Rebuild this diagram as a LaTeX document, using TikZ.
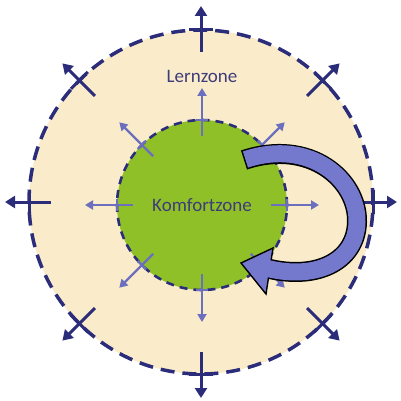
\documentclass[tikz,border=0pt]{standalone}
\usepackage{fontspec}
\setmainfont{Carlito}
\usetikzlibrary{arrows.meta}

\definecolor{lernfill}{RGB}{250,236,202}
\definecolor{komfortfill}{RGB}{143,192,40}
\definecolor{zonenavy}{RGB}{43,45,122}
\definecolor{innerblue}{RGB}{108,110,190}
\definecolor{loopblue}{RGB}{117,121,206}
\definecolor{zonetext}{RGB}{62,60,122}

\tikzset{
    outarrow/.style={zonenavy, line width=3pt, -{Triangle[length=10pt,width=12pt]}},
    outbar/.style={zonenavy, line width=3pt},
    inarrow/.style={innerblue, line width=2.4pt, -{Triangle[length=8pt,width=9pt]}},
    inbar/.style={innerblue, line width=2.4pt},
    zonelabel/.style={text=zonetext, font=\fontsize{19}{22}\selectfont}
}

\begin{document}
\begin{tikzpicture}[x=1pt,y=-1pt]
            \useasboundingbox (0,0) rectangle (400,401);
            \coordinate (c) at (201,202);
            \coordinate (k) at (202,205);

            \node[circle, inner sep=0pt, minimum size=344pt, fill=lernfill, draw=zonenavy,
                  line width=3.5pt, dash pattern=on 14pt off 8pt] (lern) at (c) {};
            \node[circle, inner sep=0pt, minimum size=170pt, fill=komfortfill, draw=zonenavy,
                  line width=2.6pt, dash pattern=on 8pt off 6pt, zonelabel] (komfort) at (k) {Komfortzone};
            \node[zonelabel] (lernlabel) at (202,76) {Lernzone};

            % Pfeile der Lernzone
            \foreach \a in {0,45,...,315}{
                \draw[outarrow] ([shift={(\a:150)}]c) -- ([shift={(\a:196)}]c);
                \draw[outbar] ([shift={(\a:172)}]c) ++(\a+90:12) -- ++(\a-90:24);
            }

            % Pfeile der Komfortzone
            \foreach \a in {0,45,...,315}{
                \draw[inarrow] ([shift={(\a:69)}]k) -- ([shift={(\a:117)}]k);
                \draw[inbar] ([shift={(\a:85)}]k) ++(\a+90:6) -- ++(\a-90:12);
            }

            % Rueckweg
            \coordinate (tail) at (244,160);
            \coordinate (bend) at (357,222);
            \coordinate (hb) at (262,267);
            \coordinate (tip) at (241,263);
            \coordinate (bu) at (273,248);
            \coordinate (bl) at (266,294);

            \draw[black, line width=20pt] (tail) .. controls (310,138) and (358,180) .. (bend)
                .. controls (356,262) and (315,282) .. (hb);
            \draw[black, fill=loopblue, line width=1.4pt, line join=miter] (bu) -- (tip) -- (bl) -- cycle;
            \draw[loopblue, line width=17pt, shorten <=1.5pt] (tail) .. controls (310,138) and (358,180) .. (bend)
                .. controls (356,262) and (315,282) .. (hb);
        \end{tikzpicture}
\end{document}
